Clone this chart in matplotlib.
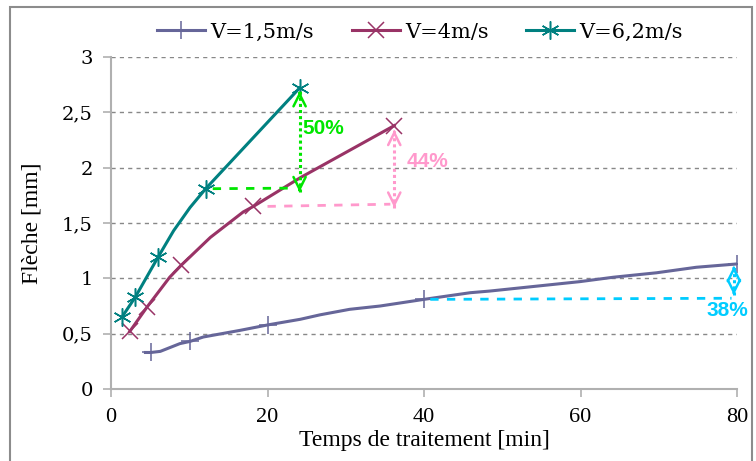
import matplotlib.pyplot as plt
import matplotlib.patches as patches
from matplotlib.ticker import FuncFormatter

# V=1,5 m/s
t_15 = [4.4, 5.1, 6.3, 8.8, 10.1, 11.8, 16.5, 20.1, 24.2, 26.7, 30.5, 34.4, 40.0,
        45.9, 48.4, 59.9, 64.2, 69.7, 74.8, 80.0]
f_15 = [0.33, 0.33, 0.34, 0.41, 0.43, 0.47, 0.53, 0.58, 0.63, 0.67, 0.72, 0.75, 0.81,
        0.87, 0.885, 0.97, 1.01, 1.05, 1.10, 1.13]
mk_15 = [1, 4, 7, 12, 19]

# V=4 m/s
t_4 = [2.4, 4.6, 7.5, 9.0, 12.7, 16.9, 18.2, 24.2, 36.2]
f_4 = [0.52, 0.74, 1.01, 1.12, 1.37, 1.60, 1.65, 1.91, 2.38]
mk_4 = [0, 1, 3, 6, 8]

# V=6,2 m/s
t_62 = [1.4, 3.1, 6.0, 8.0, 10.1, 12.1, 24.1]
f_62 = [0.65, 0.83, 1.19, 1.43, 1.64, 1.81, 2.72]
mk_62 = [0, 1, 2, 5, 6]

labels = ["V=1,5m/s", "V=4m/s", "V=6,2m/s"]
colors = ["#666699", "#993366", "#008080"]

# gain annotations: dashed reference line, double arrow, percentage
ann_text = ["50%", "44%", "38%"]
ann_color = ["#00e600", "#ff99cc", "#00ccff"]
ann_dash = [((13.0, 1.81), (23.0, 1.815)), ((20.0, 1.65), (35.7, 1.67)), ((40.8, 0.81), (79.3, 0.82))]
ann_arrow = [(24.1, 1.78, 2.69), (36.2, 1.64, 2.34), (79.6, 0.85, 1.11)]
ann_pos = [(24.5, 2.35), (37.8, 2.06), (76.1, 0.71)]

fig = plt.figure(figsize=(7.56, 4.61), dpi=100)
ax = fig.add_axes([111 / 756, 72 / 461, 626 / 756, 332 / 461])

ax.plot(t_15, f_15, color=colors[0], lw=2.2, marker="+", markevery=mk_15,
        markersize=13, markeredgewidth=1.1, label=labels[0])
ax.plot(t_4, f_4, color=colors[1], lw=2.2, marker="x", markevery=mk_4,
        markersize=12, markeredgewidth=1.1, label=labels[1])
ax.plot(t_62, f_62, color=colors[2], lw=2.2, marker=(6, 2, 0), markevery=mk_62,
        markersize=13, markeredgewidth=1.1, label=labels[2])

for i in range(3):
    (x0, y0), (x1, y1) = ann_dash[i]
    ax.plot([x0, x1], [y0, y1], color=ann_color[i], lw=2, dashes=(3, 3))
    xa, ya0, ya1 = ann_arrow[i]
    ax.plot([xa, xa], [ya0, ya1], color=ann_color[i], lw=2.2, linestyle=(0, (1, 1)))
    ax.annotate("", xy=(xa, ya1), xytext=(xa, ya1 - 0.02),
                arrowprops=dict(arrowstyle="->", color=ann_color[i], lw=1.8, mutation_scale=22))
    ax.annotate("", xy=(xa, ya0), xytext=(xa, ya0 + 0.02),
                arrowprops=dict(arrowstyle="->", color=ann_color[i], lw=1.8, mutation_scale=22))
    ax.text(ann_pos[i][0], ann_pos[i][1], ann_text[i], color=ann_color[i],
            fontsize=15, fontweight="bold", family="Liberation Sans",
            va="center", ha="left", clip_on=False)

ax.set_xlim(0, 80)
ax.set_ylim(0, 3)
ax.set_xticks([0, 20, 40, 60, 80])
ax.set_yticks([0, 0.5, 1, 1.5, 2, 2.5, 3])
ax.yaxis.set_major_formatter(FuncFormatter(lambda v, p: ("%g" % v).replace(".", ",")))

for y in [0.5, 1, 1.5, 2, 2.5, 3]:
    ax.axhline(y, color="#888888", lw=1, dashes=(3, 3), zorder=0)

for s in ["top", "right"]:
    ax.spines[s].set_visible(False)
for s in ["left", "bottom"]:
    ax.spines[s].set_color("#b0b0b0")
    ax.spines[s].set_linewidth(1.5)

ax.tick_params(axis="both", direction="out", length=6, color="#b0b0b0", width=1.2)
ax.tick_params(axis="x", pad=8)
ax.tick_params(axis="y", pad=7)
for lab in ax.get_xticklabels():
    lab.set_family("Liberation Serif")
    lab.set_fontsize(16)
for lab in ax.get_yticklabels():
    lab.set_family("DejaVu Serif")
    lab.set_fontsize(14)

ax.set_xlabel("Temps de traitement [min]", family="Liberation Serif", fontsize=17, labelpad=2)
ax.set_ylabel("Flèche [mm]", family="Liberation Serif", fontsize=17, labelpad=14)

fig.legend(loc="center", bbox_to_anchor=(420 / 756, 1 - 32 / 461), ncol=3, frameon=False,
           prop={"family": "DejaVu Serif", "size": 15}, handlelength=2.3,
           handletextpad=0.25, columnspacing=1.8)

fig.patches.append(patches.Rectangle((10 / 756, -0.1), 742 / 756, 1 - 7 / 461 + 0.1,
                                     transform=fig.transFigure, fill=False,
                                     edgecolor="#8c8c8c", lw=1.5))

fig.savefig("out.png", dpi=100)
